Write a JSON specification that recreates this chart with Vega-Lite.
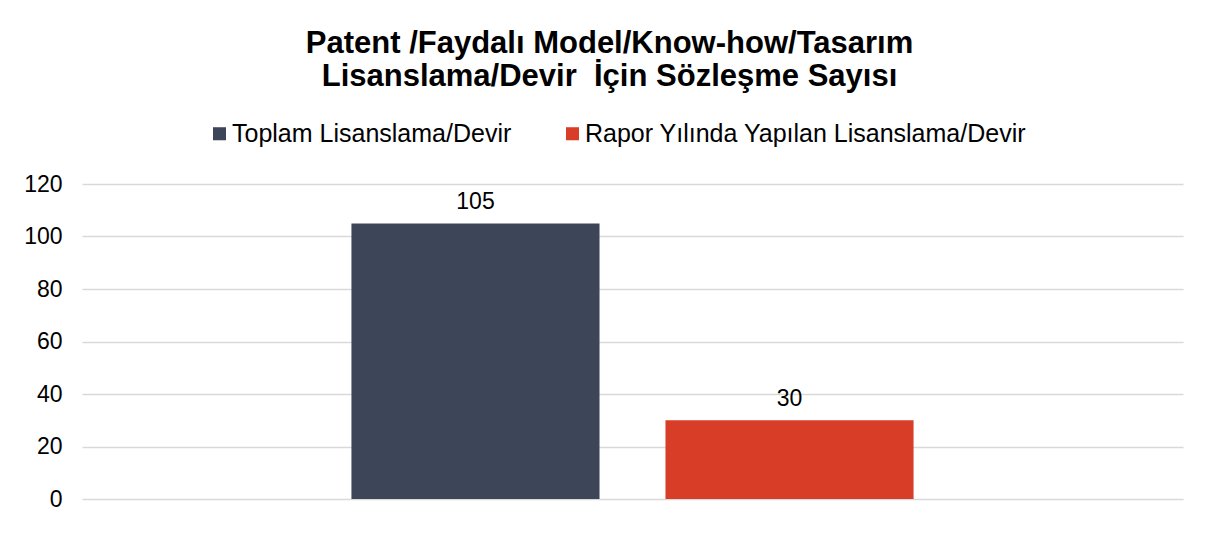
{
  "$schema": "https://vega.github.io/schema/vega-lite/v6.json",
  "autosize": {"type": "none"},
  "width": 1101,
  "height": 315,
  "padding": {"left": 82, "top": 184, "right": 26, "bottom": 34},
  "background": "white",
  "config": {
    "font": "Liberation Sans",
    "view": {"stroke": null}
  },
  "title": {
    "text": ["Patent /Faydalı Model/Know-how/Tasarım", "Lisanslama/Devir \u00a0İçin Sözleşme Sayısı"],
    "fontSize": 31,
    "fontWeight": "bold",
    "color": "#000000",
    "anchor": "middle",
    "lineHeight": 33,
    "dx": -23,
    "offset": 28
  },
  "data": {
    "values": [
      {"series": "Toplam Lisanslama/Devir", "value": 105},
      {"series": "Rapor Yılında Yapılan Lisanslama/Devir", "value": 30}
    ]
  },
  "encoding": {
    "x": {
      "field": "series",
      "type": "nominal",
      "sort": null,
      "scale": {"paddingInner": 0.21, "paddingOuter": 0.858},
      "axis": null
    },
    "y": {
      "field": "value",
      "type": "quantitative",
      "scale": {"domain": [0, 120]},
      "axis": {
        "title": null,
        "values": [0, 20, 40, 60, 80, 100, 120],
        "ticks": false,
        "domain": false,
        "labelPadding": 20,
        "labelFontSize": 23,
        "labelColor": "#000000",
        "gridColor": "#d9d9d9",
        "gridWidth": 1.3
      }
    }
  },
  "layer": [
    {
      "mark": {"type": "bar"},
      "encoding": {
        "color": {
          "field": "series",
          "type": "nominal",
          "sort": null,
          "scale": {"domain": ["Toplam Lisanslama/Devir", "Rapor Yılında Yapılan Lisanslama/Devir"], "range": ["#3c4658", "#d83d28"]},
          "legend": {
            "title": null,
            "orient": "none",
            "direction": "horizontal",
            "legendX": 125,
            "legendY": -63,
            "symbolType": "square",
            "symbolSize": 170,
            "symbolStrokeWidth": 0,
            "labelFontSize": 25,
            "labelColor": "#000000",
            "labelOffset": 0,
            "labelLimit": 600,
            "columnPadding": 48
          }
        }
      }
    },
    {
      "mark": {"type": "text", "baseline": "alphabetic", "dy": -14, "fontSize": 23, "color": "#000000"},
      "encoding": {
        "text": {"field": "value", "type": "quantitative"}
      }
    }
  ]
}
